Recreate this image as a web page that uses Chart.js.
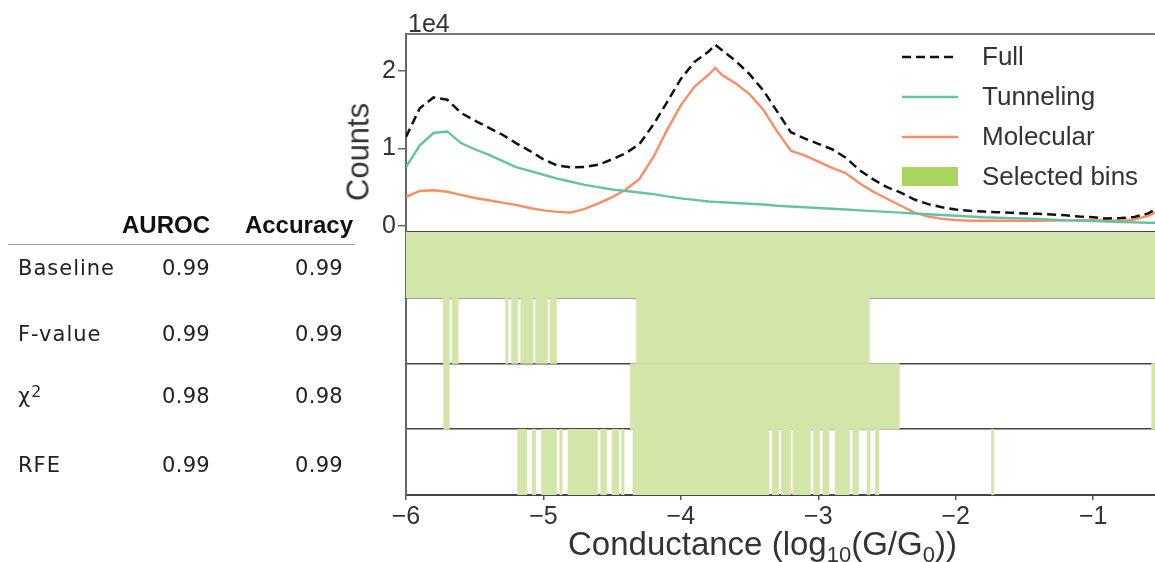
<!DOCTYPE html>
<html lang="en">
  <head>
    <meta charset="UTF-8" />
    <title>Selected bins</title>
    <script src="https://cdn.jsdelivr.net/npm/chart.js"></script>
    <style>
      body {
        margin: 0;
        background: #fff;
        font-family: "Liberation Sans", Arial, sans-serif;
        color: #333;
      }

      .wrap {
        position: relative;
        width: 1155px;
        height: 562px;
        overflow: hidden;
      }

      canvas {
        position: absolute;
        left: 0;
        top: 0;
      }

      .cell {
        position: absolute;
        line-height: 1;
        white-space: nowrap;
      }

      .head {
        font-weight: bold;
        font-size: 24px;
        color: #111;
        text-align: right;
        width: 140px;
      }

      .label {
        font-family: "DejaVu Sans", sans-serif;
        font-size: 21px;
        letter-spacing: 1px;
        color: #222;
      }

      .num {
        font-family: "DejaVu Sans", sans-serif;
        font-size: 21px;
        letter-spacing: 0.3px;
        color: #222;
        text-align: right;
        width: 100px;
      }

      .label sup {
        font-size: 75%;
        line-height: 0;
        vertical-align: 0.4em;
      }

      .rule {
        position: absolute;
        left: 8px;
        top: 244px;
        width: 347px;
        height: 1px;
        background: #a0a0a0;
      }

      .ytitle {
        position: absolute;
        left: 358px;
        top: 152px;
        transform: translate(-50%, -50%) rotate(-90deg);
        font-size: 31px;
        line-height: 1;
        white-space: nowrap;
      }

      .xtitle {
        position: absolute;
        left: 568px;
        top: 527px;
        font-size: 33px;
        line-height: 1;
        white-space: nowrap;
      }

      .xtitle sub {
        font-size: 22px;
        line-height: 0;
        vertical-align: -0.3em;
      }
    </style>
  </head>
  <body>
    <div class="wrap" id="wrap">
      <canvas id="chart" width="1155" height="562"></canvas>
      <div class="rule"></div>
      <div class="ytitle">Counts</div>
      <div class="xtitle">Conductance (log<sub>10</sub>(G/G<sub>0</sub>))</div>
    </div>

    <script>
      // conductance sample points (log10 G/G0)
      const xs = [
        -6.0, -5.9, -5.8, -5.7, -5.6, -5.5, -5.4, -5.3, -5.2, -5.1, -5.0,
        -4.9, -4.8, -4.7, -4.6, -4.5, -4.4, -4.3, -4.2, -4.1, -4.0, -3.9,
        -3.8, -3.75, -3.7, -3.6, -3.5, -3.4, -3.3, -3.2, -3.1, -3.0, -2.9,
        -2.8, -2.7, -2.6, -2.5, -2.4, -2.3, -2.2, -2.1, -2.0, -1.9, -1.8,
        -1.7, -1.6, -1.5, -1.4, -1.3, -1.2, -1.1, -1.0, -0.9, -0.8, -0.7,
        -0.6, -0.55,
      ];

      // counts in units of 1e4
      const full = [
        1.15, 1.52, 1.66, 1.63, 1.46, 1.36, 1.27, 1.18, 1.07, 0.97, 0.86,
        0.78, 0.755, 0.76, 0.79, 0.86, 0.94, 1.06, 1.31, 1.6, 1.9, 2.12,
        2.25, 2.34, 2.27, 2.13, 1.96, 1.75, 1.48, 1.21, 1.13, 1.06, 0.99,
        0.88, 0.72, 0.6, 0.5, 0.43, 0.34, 0.28, 0.24, 0.21, 0.195, 0.185,
        0.175, 0.17, 0.16, 0.155, 0.145, 0.135, 0.12, 0.11, 0.095, 0.1, 0.115,
        0.16, 0.21,
      ];
      const tunneling = [
        0.76, 1.04, 1.2, 1.22, 1.07, 0.99, 0.92, 0.84, 0.76, 0.71, 0.66,
        0.61, 0.57, 0.53, 0.5, 0.47, 0.45, 0.43, 0.41, 0.38, 0.355, 0.335,
        0.315, 0.31, 0.305, 0.295, 0.285, 0.275, 0.26, 0.25, 0.24, 0.23, 0.22,
        0.21, 0.2, 0.19, 0.18, 0.17, 0.16, 0.15, 0.14, 0.13, 0.12, 0.11,
        0.105, 0.1, 0.095, 0.09, 0.08, 0.07, 0.065, 0.06, 0.055, 0.05, 0.045,
        0.04, 0.04,
      ];
      const molecular = [
        0.375, 0.45, 0.46, 0.44, 0.4, 0.36, 0.33, 0.3, 0.27, 0.23, 0.2,
        0.18, 0.17, 0.22, 0.29, 0.37, 0.47, 0.61, 0.89, 1.24, 1.56, 1.8,
        1.95, 2.04, 1.95, 1.84, 1.7, 1.5, 1.22, 0.97, 0.91, 0.83, 0.75,
        0.68, 0.55, 0.44, 0.35, 0.26, 0.17, 0.12, 0.09, 0.075, 0.065, 0.065,
        0.065, 0.065, 0.065, 0.065, 0.068, 0.07, 0.072, 0.074, 0.07, 0.065, 0.08,
        0.13, 0.17,
      ];

      // selected bins per method, as [from, to] ranges
      const rowLabels = ["Baseline", "F-value", "χ2", "RFE"];
      const baselineBins = [[-6.0, -0.55]];
      const fvalueBins = [
        [-5.729, -5.685], [-5.664, -5.62], [-5.275, -5.257], [-5.232, -5.188],
        [-5.166, -5.075], [-5.057, -4.97], [-4.953, -4.905], [-4.323, -2.628],
      ];
      const chi2Bins = [[-5.726, -5.685], [-4.367, -2.41], [-0.574, -0.55]];
      const rfeBins = [
        [-5.188, -5.123], [-5.082, -5.057], [-5.014, -4.905], [-4.881, -4.864],
        [-4.821, -4.607], [-4.583, -4.541], [-4.501, -4.452], [-4.432, -4.413],
        [-4.348, -3.36], [-3.335, -3.289], [-3.27, -3.202], [-3.185, -3.057],
        [-3.035, -2.991], [-2.967, -2.924], [-2.877, -2.773], [-2.749, -2.708],
        [-2.645, -2.623], [-2.584, -2.56], [-1.739, -1.722],
      ];

      const xTicks = [-6, -5, -4, -3, -2, -1];
      const yTicks = [0, 1, 2];

      // score table
      const methodLabels = ["Baseline", "F-value", "χ<sup>2</sup>", "RFE"];
      const auroc = ["0.99", "0.99", "0.98", "0.99"];
      const accuracy = ["0.99", "0.99", "0.98", "0.99"];

      const FONT = "'Liberation Sans', Arial, sans-serif";
      const INK = "#333";
      const stripGreen = "#d3e6aa";
      const patchGreen = "#a9d45e";

      // ---- table ----
      const wrap = document.getElementById("wrap");
      function addCell(cls, html, left, top) {
        const d = document.createElement("div");
        d.className = "cell " + cls;
        d.innerHTML = html;
        d.style.left = left + "px";
        d.style.top = top + "px";
        wrap.appendChild(d);
      }
      addCell("head", "AUROC", 210 - 140, 213);
      addCell("head", "Accuracy", 353 - 140, 213);
      const rowTops = [258, 324, 386, 455];
      methodLabels.forEach((m, i) => {
        addCell("label", m, 18, rowTops[i]);
        addCell("num", auroc[i], 210 - 100, rowTops[i]);
        addCell("num", accuracy[i], 343 - 100, rowTops[i]);
      });

      // ---- chart ----
      const stripData = [];
      [baselineBins, fvalueBins, chi2Bins, rfeBins].forEach((bins, i) => {
        bins.forEach((b) => stripData.push({ x: b, y: rowLabels[i] }));
      });

      const pts = (ys) => xs.map((x, i) => ({ x, y: ys[i] }));

      const decorPlugin = {
        id: "decor",
        afterDraw(chart) {
          const { ctx, chartArea } = chart;
          const yScale = chart.scales.y;
          ctx.save();
          // top spine of the histogram panel
          ctx.strokeStyle = "#777";
          ctx.lineWidth = 2;
          ctx.beginPath();
          ctx.moveTo(chartArea.left, yScale.top);
          ctx.lineTo(chartArea.right, yScale.top);
          ctx.stroke();

          // offset text
          ctx.fillStyle = INK;
          ctx.font = "25px " + FONT;
          ctx.textBaseline = "alphabetic";
          ctx.fillText("1e4", chartArea.left + 2, yScale.top - 2);

          // legend
          const x0 = chartArea.right - 253;
          const tx = chartArea.right - 173;
          ctx.font = "26px " + FONT;
          ctx.textBaseline = "middle";
          chart.data.datasets.forEach((ds, i) => {
            const yy = yScale.top + 23 + i * 40;
            if (ds.type === "bar") {
              ctx.fillStyle = patchGreen;
              ctx.fillRect(x0, yy - 10, 56, 19);
            } else {
              ctx.strokeStyle = ds.borderColor;
              ctx.lineWidth = ds.borderWidth;
              ctx.setLineDash(ds.borderDash || []);
              ctx.beginPath();
              ctx.moveTo(x0, yy);
              ctx.lineTo(x0 + 56, yy);
              ctx.stroke();
              ctx.setLineDash([]);
            }
            ctx.fillStyle = INK;
            ctx.fillText(ds.label, tx, yy + 1);
          });
          ctx.restore();
        },
      };

      new Chart(document.getElementById("chart"), {
        type: "line",
        data: {
          datasets: [
            {
              label: "Full",
              data: pts(full),
              borderColor: "#111",
              borderDash: [9, 5],
              borderWidth: 2.5,
              pointRadius: 0,
              xAxisID: "x",
              yAxisID: "y",
            },
            {
              label: "Tunneling",
              data: pts(tunneling),
              borderColor: "#66c2a5",
              borderWidth: 2.4,
              pointRadius: 0,
              xAxisID: "x",
              yAxisID: "y",
            },
            {
              label: "Molecular",
              data: pts(molecular),
              borderColor: "#fc8d62",
              borderWidth: 2.4,
              pointRadius: 0,
              xAxisID: "x",
              yAxisID: "y",
            },
            {
              type: "bar",
              label: "Selected bins",
              data: stripData,
              indexAxis: "y",
              xAxisID: "x",
              yAxisID: "yb",
              backgroundColor: stripGreen,
              borderWidth: 0,
              categoryPercentage: 1,
              barPercentage: 1,
              grouped: false,
            },
          ],
        },
        options: {
          responsive: false,
          animation: false,
          layout: { padding: { top: 34, right: 0, bottom: 0, left: 0 } },
          plugins: {
            legend: { display: false },
            tooltip: { enabled: false },
          },
          scales: {
            x: {
              type: "linear",
              min: -6,
              max: -0.55,
              afterBuildTicks: (s) => {
                s.ticks = xTicks.map((v) => ({ value: v }));
              },
              afterFit: (s) => {
                s.height = 67;
              },
              ticks: {
                color: INK,
                font: { family: FONT, size: 25 },
                padding: 2,
                maxRotation: 0,
                autoSkip: false,
                callback: (v) => (v < 0 ? "\u2212" + Math.abs(v) : String(v)),
              },
              grid: {
                drawOnChartArea: false,
                tickLength: 5,
                color: "#555",
                lineWidth: 1.5,
              },
              border: { color: "#444", width: 2 },
            },
            yb: {
              type: "category",
              axis: "y",
              position: "left",
              stack: "panels",
              stackWeight: 263,
              labels: rowLabels,
              offset: true,
              z: 1,
              afterFit: (s) => {
                s.width = 406;
              },
              ticks: { display: false },
              grid: {
                offset: true,
                drawTicks: false,
                color: "#444",
                lineWidth: 1.6,
              },
              border: { color: "#666", width: 2 },
            },
            y: {
              type: "linear",
              position: "left",
              stack: "panels",
              stackWeight: 198,
              min: -0.08,
              max: 2.48,
              afterBuildTicks: (s) => {
                s.ticks = yTicks.map((v) => ({ value: v }));
              },
              afterFit: (s) => {
                s.width = 406;
              },
              ticks: {
                color: INK,
                font: { family: FONT, size: 25 },
                padding: 2,
              },
              grid: {
                drawOnChartArea: false,
                tickLength: 8,
                color: "#666",
                lineWidth: 1.5,
              },
              border: { color: "#666", width: 2 },
            },
          },
        },
        plugins: [decorPlugin],
      });
    </script>
  </body>
</html>
